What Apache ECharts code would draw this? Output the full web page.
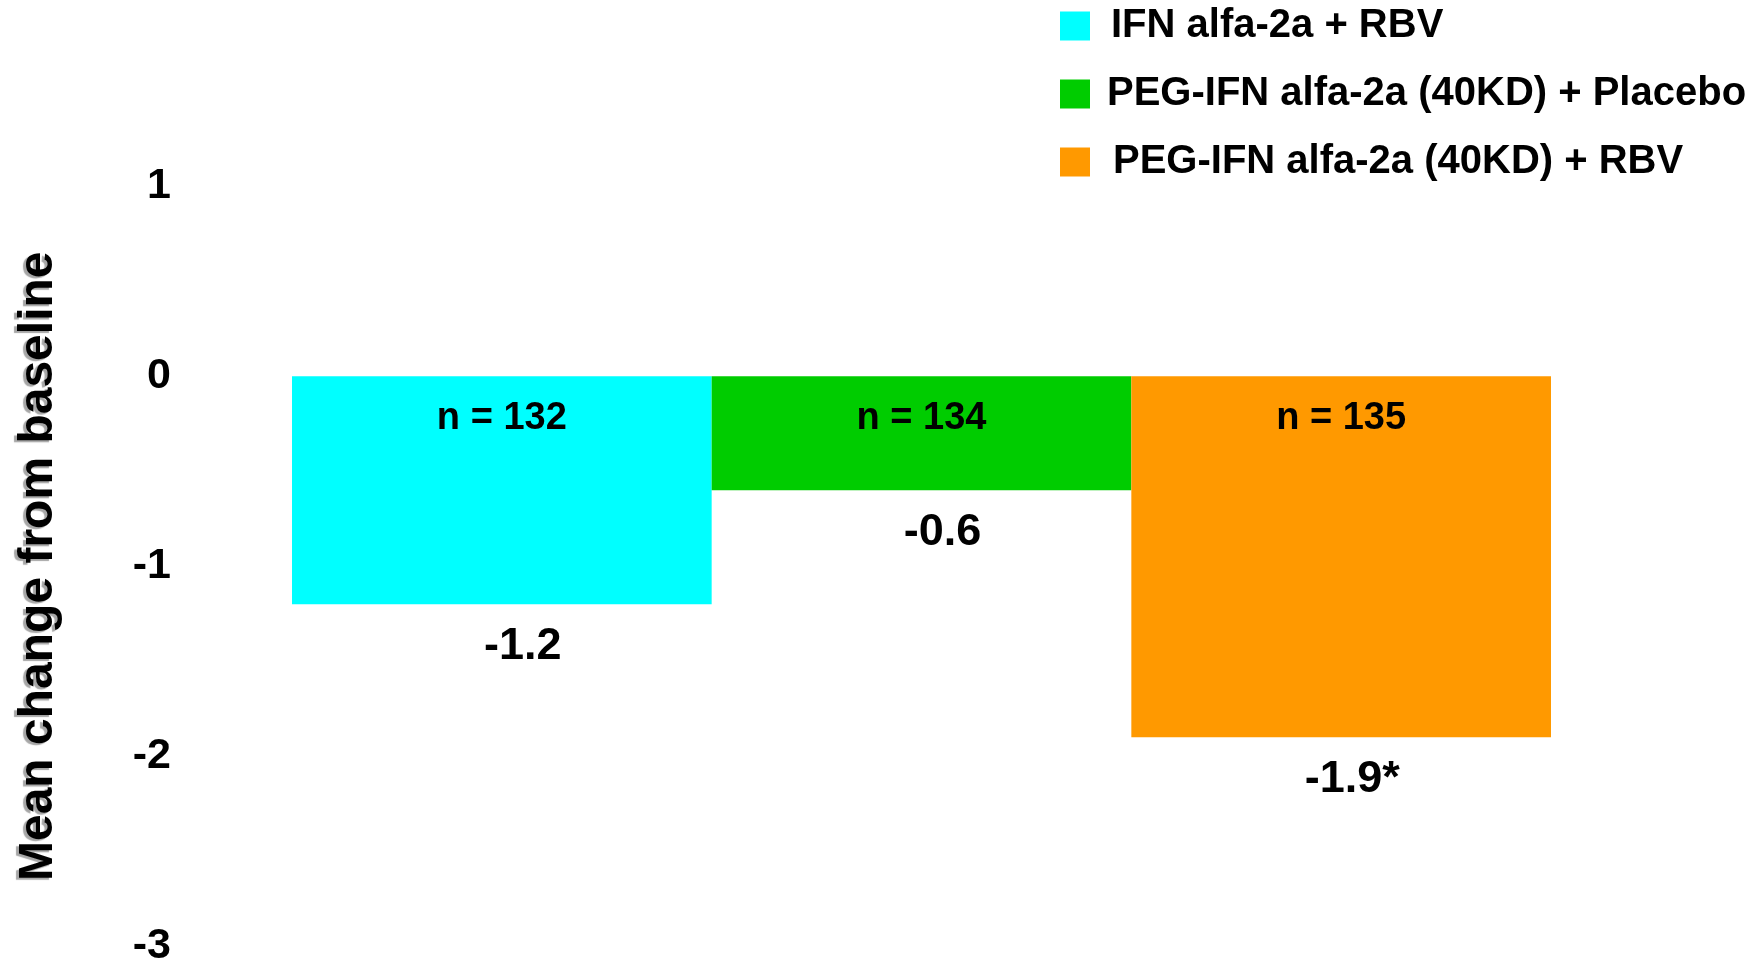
<!DOCTYPE html>
<html>
<head>
<meta charset="utf-8">
<title>Mean change from baseline</title>
<script src="https://cdn.jsdelivr.net/npm/echarts@6/dist/echarts.min.js"></script>
<style>
  html, body { margin: 0; padding: 0; background: #ffffff; }
  #chart { width: 1760px; height: 968px; }
</style>
</head>
<body>
<div id="chart"></div>
<script>
// Treatment groups, their mean change from baseline and group sizes
const groups = ['IFN alfa-2a + RBV', 'PEG-IFN alfa-2a (40KD) + Placebo', 'PEG-IFN alfa-2a (40KD) + RBV'];
const meanChange = [-1.2, -0.6, -1.9];
const sampleSizes = [132, 134, 135];
const significanceMarks = ['', '', '*'];

const groupColors = ['#00FFFF', '#00CC00', '#FF9900'];
const valueLabelShift = [[21, 0], [21, 0], [11, 0]];
const legendTextIndent = [16, 12, 18];
const FONT = "'Liberation Sans', Arial, Helvetica, sans-serif";

const chart = echarts.init(document.getElementById('chart'), null, { renderer: 'canvas' });

// One series per group, stacked so every bar fills its whole category slot
const groupSeries = groups.map((name, i) => ({
  name: name,
  type: 'bar',
  stack: 'groups',
  barCategoryGap: '0%',
  barGap: '-100%',
  data: groups.map((_, j) => (j === i ? meanChange[i] : '-')),
  itemStyle: { color: groupColors[i] },
  label: {
    show: true,
    position: 'outside',
    distance: 20,
    offset: valueLabelShift[i],
    formatter: (p) => String(p.value) + significanceMarks[i],
    color: '#000000',
    fontFamily: FONT,
    fontWeight: 'bold',
    fontSize: 45
  },
  emphasis: { disabled: true }
}));

// Transparent overlay carrying the "n = ..." labels at the top of each bar
const countSeries = {
  name: 'counts',
  type: 'bar',
  stack: 'counts',
  barCategoryGap: '0%',
  barGap: '-100%',
  silent: true,
  data: meanChange.slice(),
  itemStyle: { color: 'rgba(0,0,0,0)' },
  label: {
    show: true,
    position: 'insideTop',
    distance: 23,
    formatter: (p) => 'n = ' + sampleSizes[p.dataIndex],
    color: '#000000',
    fontFamily: FONT,
    fontWeight: 'bold',
    fontSize: 38
  },
  emphasis: { disabled: true }
};

chart.setOption({
  backgroundColor: '#ffffff',
  animation: false,
  textStyle: { fontFamily: FONT },
  grid: { left: 292, right: 209, top: 186, bottom: 17, containLabel: false },
  legend: {
    data: groups.map((name, i) => ({
      name: name,
      textStyle: { padding: [0, 0, 0, legendTextIndent[i]] }
    })),
    orient: 'vertical',
    left: 1055,
    top: 1,
    itemWidth: 30,
    itemHeight: 29,
    itemGap: 28,
    icon: 'rect',
    selectedMode: false,
    textStyle: {
      color: '#000000',
      fontFamily: FONT,
      fontWeight: 'bold',
      fontSize: 40
    }
  },
  xAxis: {
    type: 'category',
    data: groups,
    axisLine: { show: false },
    axisTick: { show: false },
    axisLabel: { show: false },
    splitLine: { show: false }
  },
  yAxis: {
    type: 'value',
    min: -3,
    max: 1,
    interval: 1,
    name: 'Mean change from baseline',
    nameLocation: 'middle',
    nameGap: 229,
    nameRotate: 90,
    nameTextStyle: {
      color: '#000000',
      fontFamily: FONT,
      fontWeight: 'bold',
      fontSize: 48,
      textShadowColor: 'rgba(0,0,0,0.35)',
      textShadowOffsetX: -3,
      textShadowOffsetY: 2,
      textShadowBlur: 1
    },
    axisLine: { show: false },
    axisTick: { show: false },
    splitLine: { show: false },
    axisLabel: {
      margin: 121,
      color: '#000000',
      fontFamily: FONT,
      fontWeight: 'bold',
      fontSize: 43
    }
  },
  series: groupSeries.concat([countSeries])
});
</script>
</body>
</html>
